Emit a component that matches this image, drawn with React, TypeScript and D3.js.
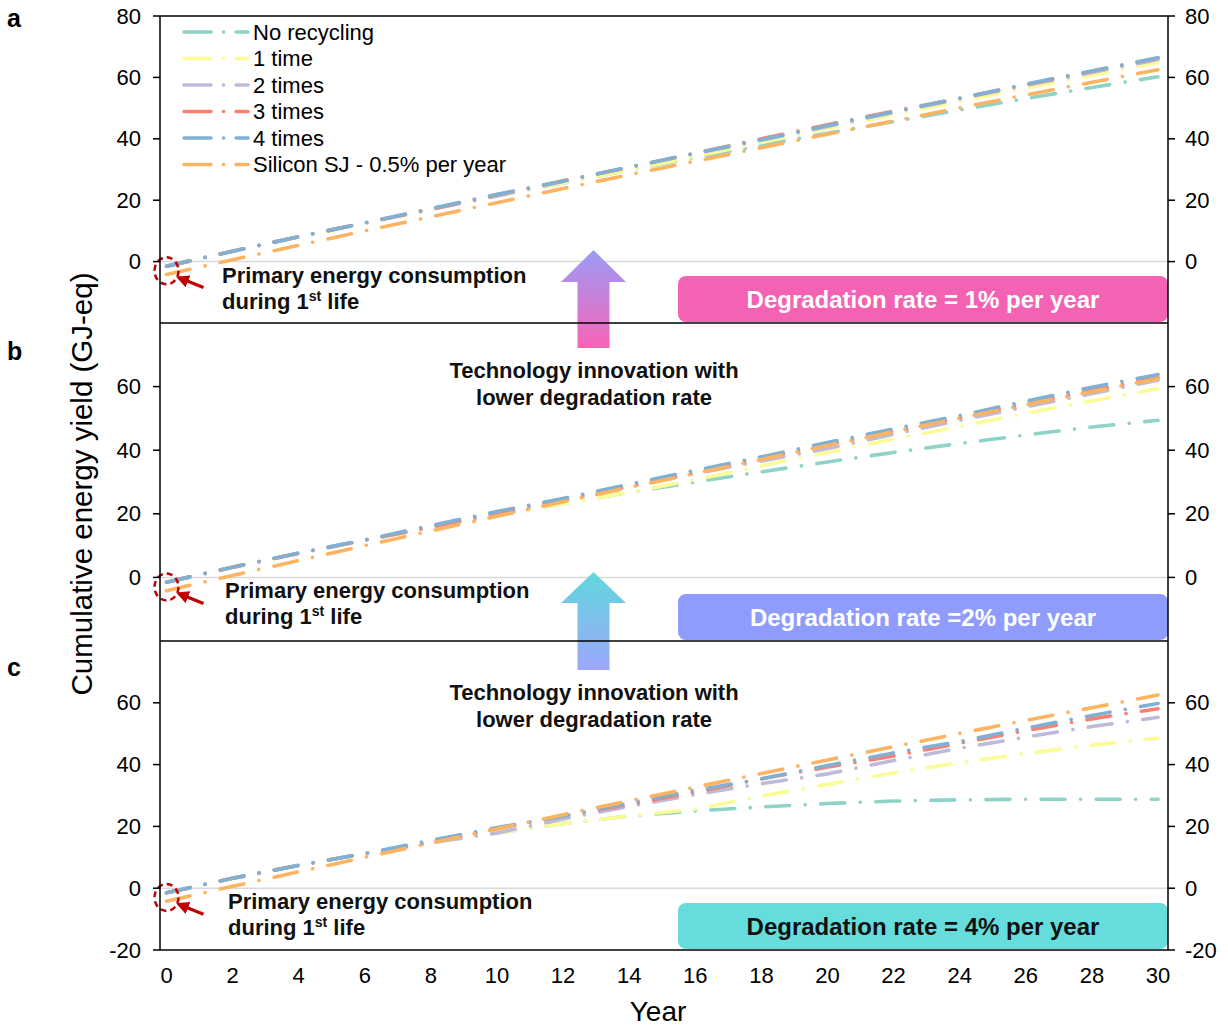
import React from 'react';
import * as d3 from 'd3';

// years sampled every 2 years
const years = [0, 2, 4, 6, 8, 10, 12, 14, 16, 18, 20, 22, 24, 26, 28, 30];
const seriesNames = ['No recycling', '1 time', '2 times', '3 times', '4 times', 'Silicon SJ - 0.5% per year'];
const seriesColors = ['#8dd3c7', '#fcfc96', '#bebada', '#fb8072', '#80b1d3', '#fdb462'];

// same reference curve in every panel
const siliconSJ = [-4.2, 0.6, 5.3, 10.0, 14.6, 19.2, 23.8, 28.3, 32.7, 37.1, 41.5, 45.8, 50.1, 54.3, 58.4, 62.5];

// a: degradation 1% per year
const noRecyclingA = [-1.5, 3.4, 8.1, 12.6, 17.0, 21.4, 25.6, 29.8, 33.8, 37.9, 41.8, 45.6, 49.4, 53.1, 56.7, 60.2];
const oneTimeA = [-1.5, 3.4, 8.1, 12.6, 17.0, 21.4, 25.6, 29.8, 34.2, 38.8, 43.4, 47.8, 52.2, 56.5, 60.7, 64.9];
const twoTimesA = [-1.5, 3.4, 8.1, 12.6, 17.0, 21.4, 26.1, 30.7, 35.2, 39.6, 44.0, 48.6, 53.0, 57.4, 61.6, 65.8];
const threeTimesA = [-1.5, 3.4, 8.1, 12.6, 17.1, 21.8, 26.3, 30.7, 35.3, 40.0, 44.6, 49.0, 53.2, 57.7, 62.0, 66.3];
const fourTimesA = [-1.5, 3.4, 8.1, 12.6, 17.3, 21.9, 26.2, 30.8, 35.3, 39.7, 44.3, 48.8, 53.2, 57.8, 62.1, 66.4];

// b: degradation 2% per year
const noRecyclingB = [-1.5, 3.2, 7.6, 11.7, 15.7, 19.6, 23.2, 26.7, 30.0, 33.2, 36.3, 39.3, 42.1, 44.8, 47.3, 49.4];
const oneTimeB = [-1.5, 3.2, 7.6, 11.7, 15.7, 19.6, 23.2, 26.7, 30.7, 35.1, 39.3, 43.5, 47.4, 51.6, 55.5, 59.4];
const twoTimesB = [-1.5, 3.2, 7.6, 11.7, 15.7, 19.6, 24.1, 28.5, 32.6, 36.6, 40.5, 45.0, 49.4, 53.6, 57.8, 62.0];
const threeTimesB = [-1.5, 3.2, 7.6, 11.7, 15.9, 20.4, 24.7, 28.8, 33.1, 37.5, 41.7, 45.9, 50.2, 54.6, 58.8, 62.8];
const fourTimesB = [-1.5, 3.2, 7.7, 11.8, 16.3, 20.7, 24.8, 29.3, 33.7, 37.9, 42.4, 46.7, 50.9, 55.4, 59.8, 63.8];

// c: degradation 4% per year
const noRecyclingC = [-1.5, 3.2, 7.4, 11.2, 14.7, 17.9, 20.9, 23.4, 25.0, 26.3, 27.4, 28.2, 28.6, 28.8, 28.8, 28.8];
const oneTimeC = [-1.5, 3.2, 7.4, 11.2, 14.7, 17.9, 20.9, 23.4, 25.6, 29.8, 33.6, 37.3, 40.6, 43.6, 46.3, 48.6];
const twoTimesC = [-1.5, 3.2, 7.4, 11.2, 14.7, 17.9, 22.4, 26.5, 30.3, 33.8, 37.0, 41.3, 45.3, 48.9, 52.3, 55.3];
const threeTimesC = [-1.5, 3.2, 7.4, 11.2, 14.9, 19.3, 23.4, 27.1, 31.1, 35.4, 39.2, 42.8, 46.9, 51.0, 54.8, 58.1];
const fourTimesC = [-1.5, 3.2, 7.4, 11.2, 15.5, 19.6, 23.3, 27.6, 31.7, 35.4, 39.7, 43.8, 47.5, 51.8, 55.9, 59.8];

const xTicks = [0, 2, 4, 6, 8, 10, 12, 14, 16, 18, 20, 22, 24, 26, 28, 30];
const yTicksA = [0, 20, 40, 60, 80];
const yTicksB = [0, 20, 40, 60];
const yTicksC = [-20, 0, 20, 40, 60];

const panelLetters = ['a', 'b', 'c'];
const rateLabels = ['Degradation rate = 1% per year', 'Degradation rate =2% per year', 'Degradation rate = 4% per year'];

const FONT = "'Liberation Sans', Arial, Helvetica, sans-serif";
const W = 1228;
const H = 1027;
const xLeft = 160;
const xRight = 1168;

const x = d3.scaleLinear().domain([0, 30]).range([166.5, 1158]);

const panels = [
  { top: 16, bottom: 323, ticks: yTicksA, series: [noRecyclingA, oneTimeA, twoTimesA, threeTimesA, fourTimesA, siliconSJ],
    box: '#f462b4', boxText: '#ffffff', textX: 222, letterY: 27 },
  { top: 323, bottom: 641, ticks: yTicksB, series: [noRecyclingB, oneTimeB, twoTimesB, threeTimesB, fourTimesB, siliconSJ],
    box: '#8f9cfc', boxText: '#ffffff', textX: 225, letterY: 360 },
  { top: 641, bottom: 950, ticks: yTicksC, series: [noRecyclingC, oneTimeC, twoTimesC, threeTimesC, fourTimesC, siliconSJ],
    box: '#66dcdc', boxText: '#111111', textX: 228, letterY: 676 },
];

const dash = '24 15.5 0.1 15.5';

export default function App() {
  return (
    <svg width={W} height={H} style={{ position: 'absolute', left: 0, top: 0, background: '#fff' }} fontFamily={FONT}>
      <defs>
        <linearGradient id="upPink" x1="0" y1="0" x2="0" y2="1">
          <stop offset="0" stopColor="#9a9cf8" />
          <stop offset="1" stopColor="#f964b6" />
        </linearGradient>
        <linearGradient id="upCyan" x1="0" y1="0" x2="0" y2="1">
          <stop offset="0" stopColor="#60d8dc" />
          <stop offset="1" stopColor="#9ea6fc" />
        </linearGradient>
        <marker id="redHead" viewBox="0 0 10 10" refX="8" refY="5" markerWidth="4" markerHeight="4" orient="auto">
          <path d="M0,0 L10,5 L0,10 z" fill="#c00000" />
        </marker>
      </defs>

      {panels.map((p, pi) => {
        const y = d3.scaleLinear().domain([-20, 80]).range([p.bottom, p.top]);
        const line = d3.line<number>().x((_, i) => x(years[i])).y(d => y(d));
        const y0 = y(0);
        const boxTop = p.bottom - 47;
        return (
          <g key={pi}>
            <line x1={xLeft} x2={xRight} y1={y0} y2={y0} stroke="#d9d9d9" strokeWidth={1.5} />
            {p.series.map((s, si) => (
              <path key={si} d={line(s) || ''} fill="none" stroke={seriesColors[si]} strokeWidth={3.6}
                strokeDasharray={dash} strokeLinecap="round" />
            ))}
            {/* start marker */}
            <ellipse cx={x(0)} cy={y(-3)} rx={12} ry={13.5} fill="none" stroke="#c00000" strokeWidth={2.5} strokeDasharray="6 4" />
            <line x1={x(0) + 37} y1={y0 + 26} x2={x(0) + 12} y2={y0 + 16} stroke="#c00000" strokeWidth={3.2} markerEnd="url(#redHead)" />
            <text x={p.textX} y={y0 + 21} fontSize={22} fontWeight="bold" fill="#111">Primary energy consumption</text>
            <text x={p.textX} y={y0 + 47} fontSize={22} fontWeight="bold" fill="#111">
              during 1<tspan fontSize={14} dy={-8}>st</tspan><tspan dy={8}> life</tspan>
            </text>
            <rect x={678} y={boxTop} width={xRight - 678} height={46} rx={8} fill={p.box} />
            <text x={(678 + xRight) / 2} y={boxTop + 23} fontSize={24} fontWeight="bold" fill={p.boxText}
              textAnchor="middle" dominantBaseline="central">{rateLabels[pi]}</text>
            {p.ticks.map(t => (
              <g key={t}>
                <line x1={xLeft - 7} x2={xLeft} y1={y(t)} y2={y(t)} stroke="#000" strokeWidth={1.5} />
                <text x={141} y={y(t)} fontSize={22} textAnchor="end" dominantBaseline="central">{t}</text>
                <line x1={xRight} x2={xRight + 7} y1={y(t)} y2={y(t)} stroke="#000" strokeWidth={1.5} />
                <text x={1185} y={y(t)} fontSize={22} dominantBaseline="central">{t}</text>
              </g>
            ))}
            <text x={7} y={p.letterY} fontSize={25} fontWeight="bold">{panelLetters[pi]}</text>
          </g>
        );
      })}

      {/* legend */}
      {seriesNames.map((n, i) => {
        const ly = 32 + i * 26.5;
        return (
          <g key={n}>
            <line x1={184} x2={248} y1={ly} y2={ly} stroke={seriesColors[i]} strokeWidth={3.6}
              strokeDasharray="27 12.5 0.1 12.5" strokeLinecap="round" />
            <text x={253} y={ly} fontSize={22} dominantBaseline="central">{n}</text>
          </g>
        );
      })}

      {/* innovation arrows */}
      <polygon points="593.5,250 626,282 609.5,282 609.5,348 577.5,348 577.5,282 561,282" fill="url(#upPink)" />
      <polygon points="593.5,572 626,603 609.5,603 609.5,670 577.5,670 577.5,603 561,603" fill="url(#upCyan)" />
      {[378, 700].map(ty => (
        <g key={ty} fontSize={22} fontWeight="bold" textAnchor="middle" fill="#111">
          <text x={594} y={ty}>Technology innovation with</text>
          <text x={594} y={ty + 27}>lower degradation rate</text>
        </g>
      ))}

      {/* frame */}
      <line x1={xLeft} x2={xLeft} y1={16} y2={950} stroke="#000" strokeWidth={1.5} />
      <line x1={xRight} x2={xRight} y1={16} y2={950} stroke="#000" strokeWidth={1.5} />
      {[16, 323, 641, 950].map(v => (
        <line key={v} x1={xLeft} x2={xRight} y1={v} y2={v} stroke="#000" strokeWidth={1.5} />
      ))}

      {/* x axis */}
      {xTicks.map(t => (
        <text key={t} x={x(t)} y={983} fontSize={22} textAnchor="middle">{t}</text>
      ))}
      <text x={658} y={1021} fontSize={28} textAnchor="middle">Year</text>
      <text transform="translate(92,484) rotate(-90)" fontSize={29.5} textAnchor="middle">Cumulative energy yield (GJ-eq)</text>
    </svg>
  );
}
